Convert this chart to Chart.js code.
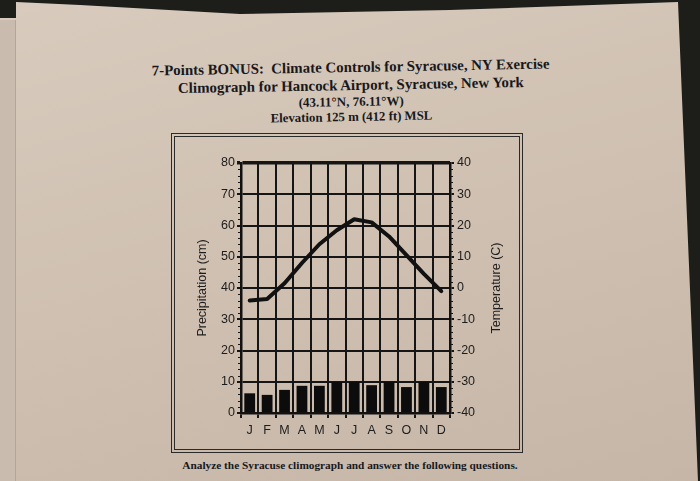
<!DOCTYPE html>
<html>
<head>
<meta charset="utf-8">
<script src="https://cdn.jsdelivr.net/npm/chart.js@4.4.1/dist/chart.umd.min.js"></script>
<style>
  html, body { margin: 0; padding: 0; }
  body { width: 700px; height: 481px; position: relative; overflow: hidden; background: #1d1e1a; }
  .sheet {
    position: absolute; left: 0; top: 0; width: 700px; height: 481px;
    background: linear-gradient(165deg, #d8cbbd 0%, #cfc0b1 50%, #c6b6a7 100%);
    clip-path: polygon(16px 2px, 80px 5px, 240px 14px, 450px 10px, 678px 2px, 698px 481px, 0 481px, 0 18px, 16px 18px);
  }
  .leftpage {
    position: absolute; left: 0; top: 20px; width: 15px; height: 461px;
    background: #c9bcae; border-right: 1px solid #b4a797;
  }
  .heading {
    position: absolute; left: 90px; top: 58px; width: 522px;
    text-align: center; color: #18181c;
    font-family: "Liberation Serif", "Times New Roman", serif; font-weight: bold;
    transform: rotate(-1deg);
  }
  .heading div { white-space: pre; }
  .l1, .l2 { font-size: 14.9px; line-height: 18px; }
  .l3 { font-size: 13px; line-height: 15px; }
  .l4 { font-size: 12.8px; line-height: 16px; }
  .frame {
    position: absolute; left: 171px; top: 133px; width: 352px; height: 320px;
    box-sizing: border-box; border: 4px double #2a2a2a;
  }
  .chartbox { position: absolute; left: 172px; top: 135px; width: 348px; height: 315px; }
  .footer {
    position: absolute; left: 100px; top: 459px; width: 500px; text-align: center;
    font-family: "Liberation Serif", "Times New Roman", serif; font-weight: bold;
    font-size: 11.3px; color: #18181c;
  }
</style>
</head>
<body>
<div class="sheet"></div>
<div class="leftpage"></div>
<div class="heading">
  <div class="l1">7-Points BONUS:  Climate Controls for Syracuse, NY Exercise</div>
  <div class="l2">Climograph for Hancock Airport, Syracuse, New York</div>
  <div class="l3">(43.11°N, 76.11°W)</div>
  <div class="l4">Elevation 125 m (412 ft) MSL</div>
</div>
<div class="frame"></div>
<div class="chartbox"><canvas id="climo" width="348" height="315"></canvas></div>
<div class="footer">Analyze the Syracuse climograph and answer the following questions.</div>
<script>
// monthly values
const months = ["J", "F", "M", "A", "M", "J", "J", "A", "S", "O", "N", "D"];
const precipCm = [6.3, 5.8, 7.4, 8.7, 8.7, 9.9, 9.9, 8.9, 9.9, 8.3, 9.9, 8.3];
const tempC = [-4, -3.5, 1.5, 8, 14, 18.5, 22, 21, 16.5, 10.5, 4.5, -1];

const ink = "#151515";
const sans = "'Liberation Sans', Arial, sans-serif";

// small ticks between the 10 cm lines, plus the right-hand title
const extras = {
    id: "extras",
    afterDraw(chart) {
        const ctx = chart.ctx;
        const yP = chart.scales.yP;
        const area = chart.chartArea;
        ctx.save();
        ctx.strokeStyle = ink;
        ctx.lineWidth = 1;
        for (let v = 2; v < 80; v += 2) {
            if (v % 10 === 0) continue;
            const y = Math.round(yP.getPixelForValue(v)) + 0.5;
            ctx.beginPath();
            ctx.moveTo(area.left - 3, y);
            ctx.lineTo(area.left, y);
            ctx.moveTo(area.right, y);
            ctx.lineTo(area.right + 3, y);
            ctx.stroke();
        }
        ctx.translate(area.right + 47, (area.top + area.bottom) / 2);
        ctx.rotate(-Math.PI / 2);
        ctx.fillStyle = "#1c1c1c";
        ctx.font = "12.5px " + sans;
        ctx.textAlign = "center";
        ctx.textBaseline = "middle";
        ctx.fillText("Temperature (C)", 0, 0);
        ctx.restore();
    }
};

new Chart(document.getElementById("climo"), {
    data: {
        labels: months,
        datasets: [
            {
                type: "line",
                data: tempC,
                yAxisID: "yT",
                borderColor: "#111",
                borderWidth: 4,
                pointRadius: 0,
                tension: 0,
                borderJoinStyle: "round",
                borderCapStyle: "round",
                order: 0
            },
            {
                type: "bar",
                data: precipCm,
                yAxisID: "yP",
                backgroundColor: "#0c0c0c",
                barPercentage: 0.62,
                categoryPercentage: 1,
                order: 1
            }
        ]
    },
    options: {
        responsive: false,
        animation: false,
        layout: { padding: { top: 28, left: 0, right: 0, bottom: 0 } },
        plugins: { legend: { display: false }, tooltip: { enabled: false } },
        scales: {
            x: {
                offset: true,
                grid: { color: ink, lineWidth: 2, tickLength: 5, offset: true },
                border: { color: "#111", width: 2.5 },
                ticks: { color: "#1c1c1c", font: { size: 12.5, family: sans }, padding: 5, maxRotation: 0, autoSkip: false },
                afterFit: s => { s.height = 37; }
            },
            yP: {
                position: "left",
                min: 0,
                max: 80,
                grid: {
                    color: ink,
                    lineWidth: c => (c.tick && c.tick.value === 80 ? 3.5 : 2),
                    tickLength: 4
                },
                border: { color: "#111", width: 2.5 },
                ticks: { stepSize: 10, color: "#1c1c1c", font: { size: 12.5, family: sans }, padding: 2 },
                title: { display: true, text: "Precipitation (cm)", color: "#1c1c1c", font: { size: 12.5, family: sans }, padding: { top: 23 } },
                afterFit: s => { s.width = 69; }
            },
            yT: {
                position: "right",
                min: -40,
                max: 40,
                grid: { drawOnChartArea: false, color: ink, lineWidth: 2, tickLength: 4 },
                border: { color: "#111", width: 2.5 },
                ticks: { stepSize: 10, color: "#1c1c1c", font: { size: 12.5, family: sans }, padding: 3 },
                afterFit: s => { s.width = 70; }
            }
        }
    },
    plugins: [extras]
});
</script>
</body>
</html>
